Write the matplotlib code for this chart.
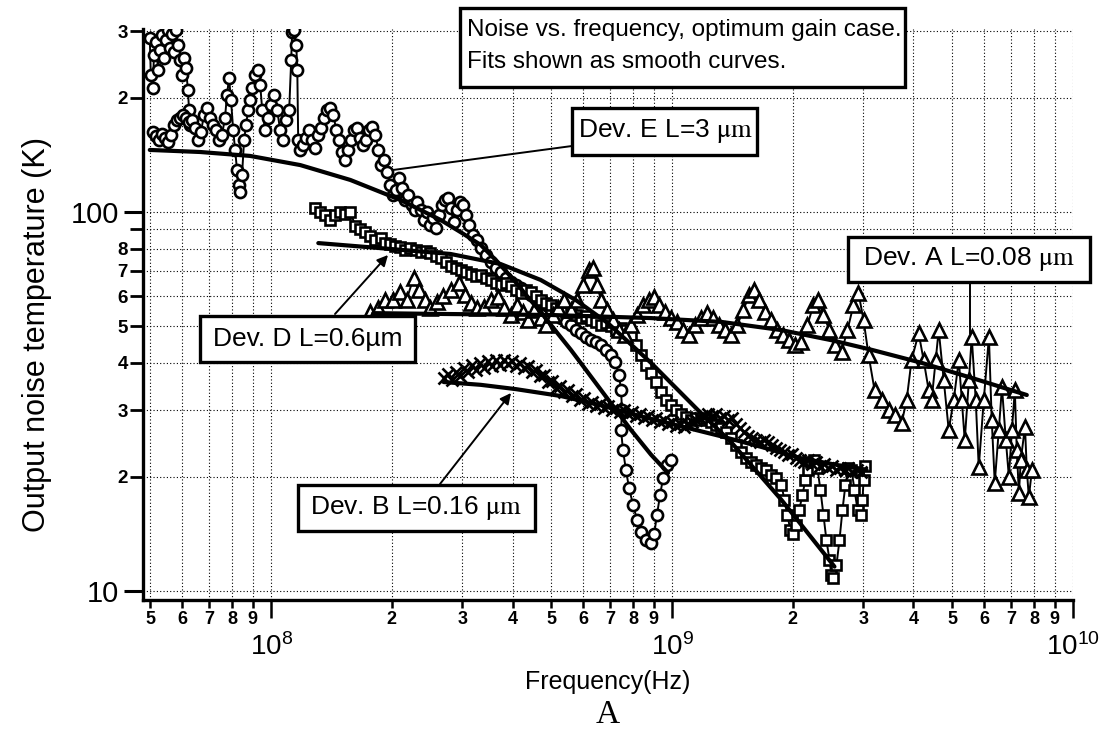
import matplotlib
matplotlib.use("Agg")
import matplotlib.pyplot as plt
from matplotlib.ticker import FixedLocator, FixedFormatter
from matplotlib.patches import Rectangle, FancyArrowPatch
from matplotlib.lines import Line2D

plt.rcParams['font.family'] = ['Liberation Sans', 'DejaVu Sans']
plt.rcParams['mathtext.fontset'] = 'stix'

# ---------------- data (frequency in Hz, noise temperature in K) ----------------
dev_e_early_f = [4.98e7, 5.01e7, 5.07e7, 5.10e7, 5.16e7, 5.22e7, 5.28e7, 5.34e7, 5.40e7, 5.47e7,
                 5.53e7, 5.59e7, 5.66e7, 5.72e7, 5.79e7, 5.85e7, 5.92e7, 5.99e7, 6.06e7, 6.13e7,
                 6.20e7, 6.24e7, 6.27e7]
dev_e_early_t = [287.8, 229.9, 212.4, 259.6, 280.9, 237.0, 267.6, 293.1, 254.9, 284.3,
                 302, 270.8, 294.9, 264.4, 302, 275.8, 251.9, 229.9, 254.9, 239.9,
                 209.9, 185.9, 169.6]

dev_e_f = [5.07e7, 5.16e7, 5.25e7, 5.34e7, 5.43e7, 5.53e7, 5.62e7, 5.72e7, 5.82e7, 5.92e7,
           6.03e7, 6.13e7, 6.24e7, 6.35e7, 6.46e7, 6.57e7, 6.68e7, 6.80e7, 6.92e7, 7.04e7,
           7.16e7, 7.29e7, 7.41e7, 7.54e7, 7.67e7, 7.76e7, 7.85e7, 7.94e7, 8.04e7, 8.13e7,
           8.22e7, 8.32e7, 8.37e7, 8.46e7, 8.56e7, 8.66e7, 8.76e7, 8.86e7, 8.97e7, 9.12e7,
           9.28e7, 9.39e7, 9.50e7, 9.66e7, 9.83e7, 1.00e8, 1.017e8, 1.035e8, 1.053e8, 1.072e8,
           1.090e8, 1.109e8, 1.122e8, 1.128e8, 1.142e8, 1.155e8, 1.162e8, 1.168e8, 1.182e8, 1.202e8,
           1.223e8, 1.245e8, 1.266e8, 1.288e8, 1.311e8, 1.334e8, 1.357e8, 1.380e8, 1.404e8, 1.429e8,
           1.454e8, 1.479e8, 1.505e8, 1.531e8, 1.558e8, 1.585e8, 1.613e8, 1.641e8, 1.670e8, 1.698e8,
           1.729e8, 1.758e8, 1.789e8, 1.820e8, 1.852e8, 1.884e8, 1.917e8, 1.950e8, 1.984e8, 2.018e8,
           2.054e8, 2.089e8, 2.126e8, 2.163e8, 2.200e8, 2.239e8, 2.278e8, 2.317e8, 2.358e8, 2.399e8,
           2.441e8, 2.483e8, 2.526e8, 2.570e8, 2.615e8, 2.661e8, 2.707e8, 2.754e8, 2.802e8, 2.851e8,
           2.901e8, 2.951e8, 3.003e8, 3.055e8, 3.108e8, 3.181e8, 3.255e8, 3.331e8, 3.428e8, 3.528e8,
           3.631e8, 3.736e8, 3.846e8, 3.957e8, 4.074e8, 4.192e8, 4.315e8, 4.44e8, 4.57e8, 4.70e8,
           4.84e8, 4.98e8, 5.13e8, 5.28e8, 5.43e8, 5.59e8, 5.75e8, 5.92e8, 6.10e8, 6.27e8,
           6.46e8, 6.65e8, 6.84e8, 7.04e8, 7.21e8, 7.37e8, 7.46e8, 7.50e8, 7.46e8, 7.54e8,
           7.67e8, 7.81e8, 7.99e8, 8.18e8, 8.37e8, 8.61e8, 8.86e8, 9.02e8, 9.17e8, 9.33e8,
           9.50e8, 9.72e8, 9.94e8]
dev_e_t = [162.6, 158.7, 154.9, 160.6, 156.8, 153.0, 159.7, 169.6, 174.9, 177.0,
           180.3, 177.0, 172.8, 174.9, 166.6, 154.9, 162.6, 180.3, 188.2, 177.0,
           169.6, 164.6, 154.9, 159.7, 177.0, 203.6, 225.8, 197.5, 164.6, 145.8,
           129.1, 117.8, 112.9, 125.2, 154.9, 169.6, 185.9, 197.5, 212.4, 229.9,
           237.0, 216.3, 185.9, 164.6, 177.0, 191.6, 203.6, 185.9, 164.6, 154.9,
           174.9, 185.9, 251.9, 298.5, 302, 275.8, 237.0, 154.9, 145.8, 150.3,
           156.8, 164.6, 154.9, 147.6, 159.7, 166.6, 177.0, 185.9, 188.2, 180.3,
           164.6, 154.9, 144.0, 137.2, 145.8, 154.9, 164.6, 166.6, 156.8, 150.3,
           154.9, 164.6, 167.6, 159.7, 145.8, 133.0, 137.2, 127.5, 117.8, 110.9,
           114.3, 122.9, 115.7, 107.6, 110.9, 104.3, 101.2, 106.3, 101.2, 95.3,
           100.0, 92.4, 96.4, 90.7, 98.2, 104.3, 107.6, 108.9, 102.5, 94.1,
           101.2, 106.3, 104.3, 98.2, 92.4, 86.9, 84.4, 80.4, 77.0, 73.8,
           71.2, 69.4, 67.0, 65.4, 64.2, 63.0, 61.5, 60.4, 59.3, 57.9,
           56.8, 55.1, 53.5, 52.5, 51.3, 50.3, 48.8, 47.9, 46.8, 45.9,
           45.4, 44.6, 43.3, 42.0, 40.2, 37.2, 33.9, 30.0, 26.6, 23.6,
           20.9, 18.7, 16.9, 15.4, 14.3, 13.6, 13.4, 14.1, 15.9, 17.9,
           19.9, 21.5, 22.2]

dev_d_f = [1.288e8, 1.326e8, 1.365e8, 1.404e8, 1.445e8, 1.488e8, 1.531e8, 1.576e8, 1.622e8, 1.670e8,
           1.718e8, 1.769e8, 1.820e8, 1.874e8, 1.928e8, 1.984e8, 2.042e8, 2.101e8, 2.163e8, 2.226e8,
           2.291e8, 2.358e8, 2.427e8, 2.497e8, 2.570e8, 2.646e8, 2.723e8, 2.802e8, 2.884e8, 2.968e8,
           3.055e8, 3.145e8, 3.236e8, 3.331e8, 3.428e8, 3.528e8, 3.631e8, 3.736e8, 3.846e8, 3.957e8,
           4.074e8, 4.192e8, 4.315e8, 4.44e8, 4.57e8, 4.70e8, 4.84e8, 4.98e8, 5.13e8, 5.28e8,
           5.43e8, 5.59e8, 5.75e8, 5.92e8, 6.10e8, 6.27e8, 6.46e8, 6.65e8, 6.84e8, 7.04e8,
           7.25e8, 7.46e8, 7.67e8, 7.90e8, 8.13e8, 8.37e8, 8.61e8, 8.86e8, 9.12e8, 9.39e8,
           9.66e8, 9.94e8, 1.023e9, 1.053e9, 1.084e9, 1.115e9, 1.148e9, 1.182e9, 1.216e9, 1.252e9,
           1.288e9, 1.326e9, 1.365e9, 1.404e9, 1.445e9, 1.488e9, 1.531e9, 1.576e9, 1.622e9, 1.670e9,
           1.718e9, 1.769e9, 1.820e9, 1.874e9, 1.906e9, 1.939e9, 1.972e9, 2.007e9, 2.042e9, 2.077e9,
           2.113e9, 2.150e9, 2.188e9, 2.226e9, 2.265e9, 2.304e9, 2.344e9, 2.385e9, 2.427e9, 2.469e9,
           2.497e9, 2.526e9, 2.570e9, 2.615e9, 2.661e9, 2.707e9, 2.754e9, 2.802e9, 2.851e9, 2.901e9,
           2.951e9, 2.985e9, 3.003e9, 3.020e9]
dev_d_t = [102.5, 100.0, 98.2, 95.3, 98.2, 100.0, 98.8, 100.0, 91.9, 90.2,
           88.5, 86.4, 84.4, 85.4, 82.8, 82.4, 81.4, 80.9, 79.4, 80.4,
           79.4, 78.4, 78.9, 78.0, 76.6, 75.6, 73.8, 72.0, 71.2, 70.3,
           69.4, 68.6, 67.8, 68.2, 67.0, 66.2, 65.0, 64.2, 65.0, 63.8,
           62.3, 61.1, 62.3, 61.5, 60.0, 58.6, 57.5, 56.8, 55.8, 55.1,
           54.5, 55.1, 53.5, 52.5, 53.2, 51.9, 51.3, 50.3, 50.9, 50.0,
           48.8, 49.4, 48.8, 47.4, 44.6, 42.0, 39.5, 37.6, 35.6, 33.5,
           31.9, 30.9, 30.0, 29.3, 28.8, 28.3, 28.6, 28.3, 28.6, 27.9,
           27.4, 26.9, 26.3, 25.3, 24.3, 23.3, 22.4, 21.9, 21.5, 21.1,
           20.9, 20.2, 19.9, 19.1, 17.4, 15.9, 14.5, 14.1, 14.9, 16.4,
           17.9, 19.6, 20.9, 21.9, 22.2, 21.1, 18.5, 15.9, 13.6, 12.1,
           11.0, 10.8, 11.7, 13.6, 16.4, 19.1, 21.1, 20.9, 18.5, 16.4,
           15.9, 17.4, 19.6, 21.4]

dev_a_f = [1.769e8, 1.852e8, 1.928e8, 2.018e8, 2.101e8, 2.176e8, 2.265e8, 2.331e8, 2.413e8, 2.497e8,
           2.585e8, 2.676e8, 2.802e8, 2.934e8, 3.038e8, 3.145e8, 3.255e8, 3.388e8, 3.528e8, 3.673e8,
           3.802e8, 3.957e8, 4.093e8, 4.24e8, 4.38e8, 4.53e8, 4.70e8, 4.86e8, 5.04e8, 5.20e8,
           5.38e8, 5.59e8, 5.79e8, 5.99e8, 6.20e8, 6.35e8, 6.49e8, 6.65e8, 6.88e8, 7.13e8,
           7.37e8, 7.63e8, 7.90e8, 8.18e8, 8.46e8, 8.76e8, 9.02e8, 9.28e8, 9.61e8, 9.94e8,
           1.029e9, 1.066e9, 1.103e9, 1.142e9, 1.182e9, 1.223e9, 1.266e9, 1.311e9, 1.357e9, 1.404e9,
           1.454e9, 1.505e9, 1.558e9, 1.603e9, 1.650e9, 1.708e9, 1.769e9, 1.830e9, 1.895e9, 1.961e9,
           2.030e9, 2.101e9, 2.175e9, 2.252e9, 2.317e9, 2.385e9, 2.469e9, 2.556e9, 2.646e9, 2.738e9,
           2.834e9, 2.917e9, 3.003e9, 3.090e9, 3.199e9, 3.331e9, 3.467e9, 3.589e9, 3.736e9, 3.846e9,
           3.957e9, 4.121e9, 4.24e9, 4.365e9, 4.44e9, 4.545e9, 4.624e9, 4.76e9, 4.898e9, 5.04e9,
           5.19e9, 5.28e9, 5.37e9, 5.50e9, 5.59e9, 5.72e9, 5.82e9, 5.99e9, 6.17e9, 6.27e9,
           6.38e9, 6.53e9, 6.65e9, 6.80e9, 6.92e9, 7.04e9, 7.16e9, 7.24e9, 7.33e9, 7.41e9,
           7.59e9, 7.67e9, 7.76e9, 7.90e9]
dev_a_t = [54.5, 55.8, 58.6, 58.6, 61.5, 58.6, 67.0, 62.3, 58.6, 55.8,
           57.9, 60.0, 62.3, 65.0, 60.4, 57.5, 55.8, 56.2, 58.6, 59.7,
           55.8, 53.5, 56.8, 54.5, 51.9, 55.1, 52.5, 50.3, 53.5, 55.8,
           58.6, 55.1, 58.6, 64.2, 70.3, 71.2, 64.2, 58.6, 55.1, 51.9,
           48.8, 47.4, 50.3, 53.5, 56.8, 58.6, 59.7, 56.8, 54.5, 52.5,
           51.3, 48.8, 47.4, 50.3, 52.5, 54.1, 52.5, 50.3, 48.8, 47.4,
           50.3, 55.1, 60.4, 62.3, 58.6, 54.5, 51.9, 48.8, 47.4, 45.9,
           44.6, 45.4, 50.3, 56.8, 58.6, 53.5, 48.8, 44.6, 42.7, 48.8,
           56.8, 61.1, 51.9, 42.0, 33.9, 31.9, 30.0, 29.1, 27.7, 31.9,
           40.7, 47.9, 40.7, 33.9, 31.9, 40.7, 48.8, 36.0, 26.6, 31.9,
           40.7, 31.9, 25.0, 36.0, 46.8, 31.9, 21.2, 31.9, 46.8, 28.3,
           19.3, 26.6, 34.5, 25.0, 20.0, 26.6, 33.9, 23.6, 18.1, 22.2,
           27.1, 20.9, 17.7, 20.9]

dev_b_f = [2.692e8, 2.754e8, 2.818e8, 2.884e8, 2.951e8, 3.020e8, 3.090e8, 3.162e8, 3.236e8, 3.311e8,
           3.388e8, 3.467e8, 3.548e8, 3.631e8, 3.715e8, 3.802e8, 3.890e8, 3.981e8, 4.074e8, 4.169e8,
           4.266e8, 4.365e8, 4.467e8, 4.57e8, 4.677e8, 4.786e8, 4.898e8, 5.012e8, 5.13e8, 5.248e8,
           5.370e8, 5.495e8, 5.623e8, 5.75e8, 5.888e8, 6.026e8, 6.166e8, 6.310e8, 6.46e8, 6.607e8,
           6.761e8, 6.918e8, 7.079e8, 7.25e8, 7.413e8, 7.586e8, 7.762e8, 7.943e8, 8.13e8, 8.318e8,
           8.511e8, 8.710e8, 8.913e8, 9.12e8, 9.33e8, 9.550e8, 9.77e8, 1.000e9, 1.023e9, 1.047e9,
           1.072e9, 1.096e9, 1.122e9, 1.148e9, 1.175e9, 1.202e9, 1.230e9, 1.259e9, 1.288e9, 1.318e9,
           1.349e9, 1.380e9, 1.413e9, 1.445e9, 1.479e9, 1.514e9, 1.549e9, 1.585e9, 1.622e9, 1.660e9,
           1.698e9, 1.738e9, 1.778e9, 1.820e9, 1.862e9, 1.906e9, 1.950e9, 1.995e9, 2.042e9, 2.089e9,
           2.138e9, 2.188e9, 2.239e9, 2.291e9, 2.344e9, 2.399e9, 2.455e9, 2.512e9, 2.570e9, 2.630e9,
           2.692e9, 2.754e9, 2.818e9, 2.884e9, 2.951e9]
dev_b_t = [36.5, 37.4, 36.0, 37.8, 36.9, 38.8, 37.8, 39.5, 38.3, 40.0,
           38.8, 40.4, 39.2, 40.7, 39.5, 40.7, 39.7, 40.4, 39.2, 40.0,
           38.8, 39.2, 37.8, 38.3, 36.9, 37.2, 35.6, 35.8, 34.3, 34.7,
           33.5, 33.9, 32.7, 33.1, 31.9, 32.3, 31.1, 31.5, 30.8, 31.1,
           30.4, 30.8, 30.0, 30.4, 29.7, 30.0, 29.3, 29.7, 28.9, 29.3,
           28.6, 28.9, 28.3, 28.6, 27.9, 28.3, 27.6, 27.9, 27.2, 27.6,
           27.1, 27.6, 27.9, 28.3, 28.6, 28.9, 29.3, 28.9, 29.3, 28.6,
           28.9, 28.3, 28.6, 27.6, 26.9, 26.3, 25.6, 25.3, 25.0, 24.7,
           25.0, 24.7, 24.3, 23.8, 23.6, 23.3, 22.9, 23.0, 22.4, 22.2,
           21.9, 22.2, 21.6, 21.9, 21.4, 21.6, 21.1, 21.4, 20.9, 21.1,
           20.9, 21.1, 20.6, 20.9, 20.6]

fit_e_f = [4.98e7, 6.65e7, 8.86e7, 1.182e8, 1.576e8, 2.101e8, 2.646e8, 2.968e8, 3.331e8, 3.673e8,
           4.027e8, 4.365e8, 4.70e8, 5.13e8, 5.59e8, 6.10e8, 6.65e8, 7.25e8, 7.90e8, 8.86e8, 9.77e8]
fit_e_t = [145.8, 144.0, 140.6, 133.0, 121.5, 107.6, 95.3, 88.5, 81.9, 73.8,
           66.2, 59.7, 54.5, 48.5, 43.3, 38.3, 33.9, 30.0, 26.6, 22.9, 20.5]

fit_d_f = [1.311e8, 1.984e8, 2.802e8, 3.736e8, 4.70e8, 5.75e8, 6.918e8, 8.86e8, 1.161e9, 1.404e9,
           1.874e9, 2.541e9]
fit_d_t = [82.8, 79.9, 77.5, 72.9, 66.2, 58.6, 50.9, 40.0, 30.0, 24.7, 17.4, 11.6]

fit_a_f = [1.799e8, 2.802e8, 4.98e8, 8.86e8, 1.326e9, 1.874e9, 2.497e9, 3.145e9, 4.192e9, 5.59e9, 7.67e9]
fit_a_t = [54.1, 53.8, 53.5, 52.5, 51.3, 48.8, 45.9, 43.3, 40.0, 36.5, 32.9]

fit_b_f = [2.692e8, 3.331e8, 4.074e8, 5.28e8, 6.65e8, 8.37e8, 1.053e9, 1.326e9, 1.670e9, 2.101e9,
           2.646e9, 3.055e9]
fit_b_t = [35.6, 35.0, 34.1, 32.7, 30.9, 28.9, 27.2, 25.6, 24.0, 22.4, 21.4, 20.9]

x_major = [1e8, 1e9, 1e10]
x_major_labels = [r'$\mathregular{10^{8}}$', r'$\mathregular{10^{9}}$', r'$\mathregular{10^{10}}$']
x_minor = [5e7, 6e7, 7e7, 8e7, 9e7,
           2e8, 3e8, 4e8, 5e8, 6e8, 7e8, 8e8, 9e8,
           2e9, 3e9, 4e9, 5e9, 6e9, 7e9, 8e9, 9e9]
x_minor_labels = ['5', '6', '7', '8', '9',
                  '2', '3', '4', '5', '6', '7', '8', '9',
                  '2', '3', '4', '5', '6', '7', '8', '9']
y_major = [10, 100]
y_major_labels = ['10', '100']
y_minor = [20, 30, 40, 50, 60, 70, 80, 90, 200, 300]
y_minor_labels = ['2', '3', '4', '5', '6', '7', '8', '', '2', '3']

title_text = "Noise vs. frequency, optimum gain case.\nFits shown as smooth curves."
label_e = r"Dev. E L=3 $\mathrm{\mu m}$"
label_a = r"Dev. A L=0.08 $\mathrm{\mu m}$"
label_d = "Dev. D L=0.6\u00b5m"
label_b = r"Dev. B L=0.16 $\mathrm{\mu m}$"

# ---------------- figure ----------------
W, H = 1105, 732
fig = plt.figure(figsize=(W / 100, H / 100), dpi=100)
ax = fig.add_axes([143 / W, 1 - 600 / H, 930 / W, 571 / H])
ax.set_xscale('log')
ax.set_yscale('log')
ax.set_xlim(4.79e7, 1e10)
ax.set_ylim(9.47, 304)
ax.set_axisbelow(True)

mk = dict(color='black', lw=1.4, mfc='white', mec='black', mew=1.9, zorder=3)
ax.plot(dev_e_early_f, dev_e_early_t, marker='o', ms=8, **mk)
ax.plot(dev_e_f, dev_e_t, marker='o', ms=8, **mk)
ax.plot(dev_d_f, dev_d_t, marker='s', ms=7.5, **mk)
ax.plot(dev_a_f, dev_a_t, marker='^', ms=9.5, **mk)
ax.plot(dev_b_f, dev_b_t, marker='x', ms=8, color='black', lw=1.4, mew=1.9, zorder=3)

fk = dict(color='black', lw=3.0, solid_capstyle='round', zorder=4)
ax.plot(fit_e_f, fit_e_t, **fk)
ax.plot(fit_d_f, fit_d_t, **fk)
ax.plot(fit_a_f, fit_a_t, **fk)
ax.plot(fit_b_f, fit_b_t, **fk)

ax.xaxis.set_major_locator(FixedLocator(x_major))
ax.xaxis.set_major_formatter(FixedFormatter(x_major_labels))
ax.xaxis.set_minor_locator(FixedLocator(x_minor))
ax.xaxis.set_minor_formatter(FixedFormatter(x_minor_labels))
ax.yaxis.set_major_locator(FixedLocator(y_major))
ax.yaxis.set_major_formatter(FixedFormatter(y_major_labels))
ax.yaxis.set_minor_locator(FixedLocator(y_minor))
ax.yaxis.set_minor_formatter(FixedFormatter(y_minor_labels))

ax.grid(True, which='both', color='black', lw=0.8, ls=(0, (1, 2)))

for s in ['top', 'right']:
    ax.spines[s].set_visible(False)
for s in ['left', 'bottom']:
    ax.spines[s].set_linewidth(2.4)

ax.tick_params(axis='x', which='major', length=13, width=1.8, pad=11, labelsize=20)
ax.tick_params(axis='x', which='minor', length=5.5, width=1.8, pad=2.5, labelsize=13)
ax.tick_params(axis='y', which='major', length=14, width=2.2, pad=3, labelsize=21)
ax.tick_params(axis='y', which='minor', length=9.5, width=2.0, pad=1.5, labelsize=13.5)
for lbl in ax.get_xticklabels(minor=True) + ax.get_yticklabels(minor=True):
    lbl.set_fontweight('bold')

fig.text(37 / W, 1 - 335 / H, "Output noise temperature (K)", rotation=90,
         ha='center', va='center', fontsize=22)
fig.text(608 / W, 1 - 682 / H, "Frequency(Hz)", ha='center', va='center', fontsize=18)
fig.text(608 / W, 1 - 715 / H, "A", ha='center', va='center', fontsize=24,
         family=['Liberation Serif', 'DejaVu Serif'])


def P(x, y):
    return (x / W, 1 - y / H)


def box(x0, y0, x1, y1):
    fig.add_artist(Rectangle(P(x0, y1), (x1 - x0) / W, (y1 - y0) / H,
                             transform=fig.transFigure, fc='white', ec='black',
                             lw=2.4, zorder=5))


def line(x0, y0, x1, y1, head=False):
    if head:
        fig.add_artist(FancyArrowPatch(P(x0, y0), P(x1, y1), transform=fig.transFigure,
                                       arrowstyle='-|>', mutation_scale=16, lw=1.4,
                                       color='black', zorder=5, shrinkA=0, shrinkB=0))
    else:
        fig.add_artist(Line2D([x0 / W, x1 / W], [1 - y0 / H, 1 - y1 / H],
                              transform=fig.transFigure, color='black', lw=1.4, zorder=5))


# title box
box(460, 8, 905, 87)
fig.text(*P(467, 46), title_text, ha='left', va='center', fontsize=17.5,
         linespacing=1.6, zorder=6)

# Dev E
line(572, 146, 393, 170)
box(572, 108, 757, 155)
fig.text(*P(665, 131), label_e, ha='center', va='center', fontsize=19, zorder=6)

# Dev A
line(970, 282, 970, 333)
box(848, 237, 1090, 282)
fig.text(*P(969, 259), label_a, ha='center', va='center', fontsize=19, zorder=6)

# Dev D
line(335, 314, 388, 255, head=True)
box(200, 316, 415, 362)
fig.text(*P(308, 339), label_d, ha='center', va='center', fontsize=19, zorder=6)

# Dev B
line(440, 484, 511, 393, head=True)
box(298, 485, 535, 531)
fig.text(*P(416, 508), label_b, ha='center', va='center', fontsize=19, zorder=6)

fig.savefig("out.png", dpi=100)
